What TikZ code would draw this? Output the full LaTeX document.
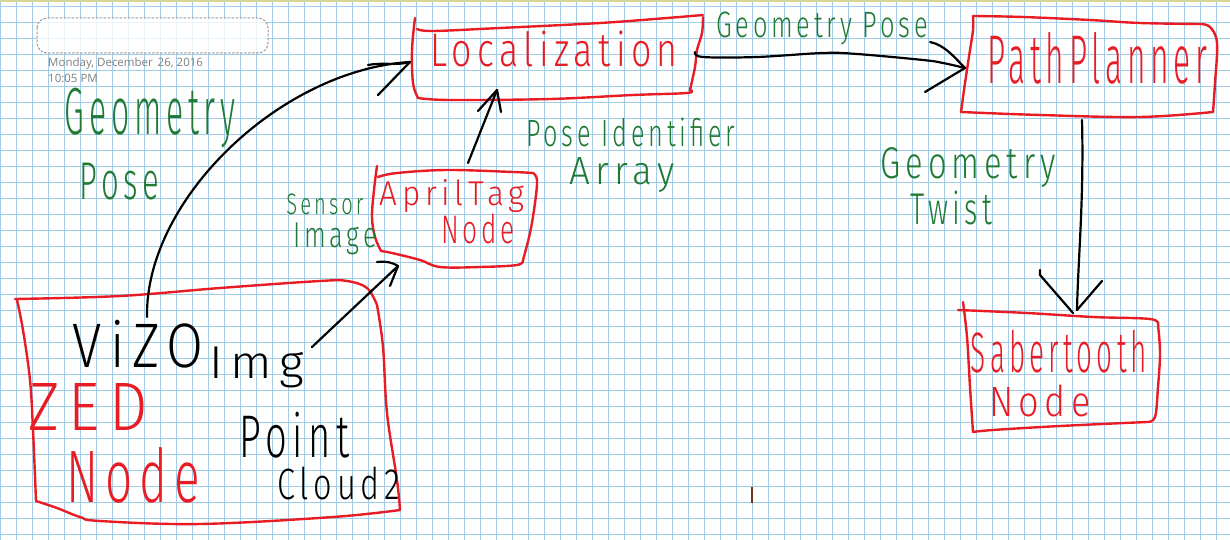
\documentclass[tikz,border=0pt]{standalone}
\usepackage{fontspec}
\usepackage{graphicx}
\IfFontExistsTF{Fira Sans Light}{\newfontfamily\hand{Fira Sans Light}[LetterSpace=15]}{\newfontfamily\hand{DejaVu Sans}[LetterSpace=15]}
\newfontfamily\uifont{Open Sans}
\definecolor{hwred}{RGB}{232,28,36}
\definecolor{hwgreen}{RGB}{32,122,52}
\definecolor{gridblue}{RGB}{160,204,232}
\definecolor{topbar}{RGB}{218,212,150}
\definecolor{uigray}{RGB}{128,128,128}
\definecolor{stray}{RGB}{110,50,30}
\newcommand{\hw}[3]{\resizebox*{#1pt}{#2pt}{\hand\kern-0.075em #3\kern-0.075em}}
\begin{document}
\begin{tikzpicture}[x=1pt,y=-1pt,line cap=round,line join=round,
  redbox/.style={draw=hwred,line width=2.4pt},
  conn/.style={draw=black,line width=2.2pt},
  gridline/.style={draw=gridblue,line width=1.3pt,line cap=butt},
  lbl/.style={inner sep=0pt,outer sep=0pt,anchor=north west},
  redlbl/.style={lbl,text=hwred},
  greenlbl/.style={lbl,text=hwgreen},
  blacklbl/.style={lbl,text=black}]
\useasboundingbox (0,0) rectangle (1230,540);
\fill[white] (0,0) rectangle (1230,540);
% grid paper
\foreach \i in {0,...,76} \draw[gridline] ({16*\i+0.5},0) -- ({16*\i+0.5},540);
\foreach \j in {0,...,33} \draw[gridline] (0,{16*\j+6.5}) -- (1230,{16*\j+6.5});
\fill[topbar] (0,0) rectangle (1230,2);
% title placeholder and date
\draw[uigray!80,line width=1pt,dash pattern=on 2pt off 2pt,rounded corners=10pt,fill=white,fill opacity=0.75]
  (37,18) rectangle (268,53);
\node[inner sep=0pt,anchor=base west,text=uigray,font=\uifont\fontsize{11.5}{13}\selectfont] (date) at (48,67) {Monday, December\,\ 26, 2016};
\node[inner sep=0pt,anchor=base west,text=uigray,font=\uifont\fontsize{11.5}{13}\selectfont] (time) at (48,83) {10:05 PM};

% ---------- boxes ----------
% Localization
\draw[redbox] plot[smooth,tension=0.6] coordinates {(415,18) (412,50) (413,83) (418,98)};
\draw[redbox] plot[smooth,tension=0.6] coordinates {(418,98) (450,100) (550,99) (633,95) (687,93) (690,90)};
\draw[redbox] plot[smooth,tension=0.6] coordinates {(690,90) (695,67) (697,50) (702,33) (703,17)};
\draw[redbox] plot[smooth,tension=0.6] coordinates {(703,15) (667,18) (600,23) (500,28) (433,31) (417,29)};
% PathPlanner
\draw[redbox] plot[smooth,tension=0.6] coordinates {(973,16) (973,30) (970,50) (965,83) (961,112)};
\draw[redbox] plot[smooth,tension=0.6] coordinates {(961,112) (1040,115) (1140,117) (1213,112)};
\draw[redbox] plot[smooth,tension=0.6] coordinates {(1213,112) (1215,83) (1217,43) (1210,27) (1200,24)};
\draw[redbox] plot[smooth,tension=0.6] coordinates {(1200,24) (1140,23) (1090,20) (1023,17) (973,16)};
% AprilTag
\draw[redbox] plot[smooth,tension=0.6] coordinates {(377,166) (374,190) (372,217) (375,237) (381,251)};
\draw[redbox] plot[smooth,tension=0.6] coordinates {(381,251) (392,253) (420,260) (440,267) (480,267) (517,265) (523,260)};
\draw[redbox] plot[smooth,tension=0.6] coordinates {(523,260) (530,233) (535,203) (537,180) (533,173)};
\draw[redbox] plot[smooth,tension=0.6] coordinates {(533,173) (513,172) (447,170) (397,173) (378,177)};
% ZED
\draw[redbox] plot[smooth,tension=0.6] coordinates {(15,299) (120,296) (220,288) (320,281) (347,281) (367,288) (377,305)};
\draw[redbox] plot[smooth,tension=0.6] coordinates {(377,305) (383,347) (387,413) (397,480) (400,510)};
\draw[redbox] plot[smooth,tension=0.6] coordinates {(400,510) (333,517) (200,524) (100,521) (80,517) (57,508) (36,501)};
\draw[redbox] plot[smooth,tension=0.6] coordinates {(36,501) (33,430) (30,380) (23,330) (17,300)};
% Sabertooth
\draw[redbox] plot[smooth,tension=0.6] coordinates {(958,310) (1027,313) (1093,317) (1150,319) (1158,325)};
\draw[redbox] plot[smooth,tension=0.6] coordinates {(1158,325) (1160,353) (1158,387) (1155,417) (1147,422)};
\draw[redbox] plot[smooth,tension=0.6] coordinates {(1147,422) (1060,426) (993,430) (973,432)};
\draw[redbox] plot[smooth,tension=0.6] coordinates {(973,432) (970,387) (967,337) (963,302)};

% ---------- node texts ----------
\node[redlbl] (t-loc) at (433,31) {\hw{242}{36}{Localization}};
\node[redlbl] (t-path) at (990,32) {\hw{215}{52}{PathPlanner}};
\node[redlbl] (t-april1) at (382,180) {\hw{140}{33}{AprilTag}};
\node[redlbl] (t-april2) at (443,214) {\hw{70}{30}{Node}};
\node[redlbl] (t-zed1) at (33,383) {\hw{110}{47}{ZED}};
\node[redlbl] (t-zed2) at (70,447) {\hw{127}{56}{Node}};
\node[redlbl] (t-sab1) at (973,330) {\hw{172}{43}{Sabertooth}};
\node[redlbl] (t-sab2) at (992,385) {\hw{96}{32}{Node}};
% topic texts in ZED box
\node[blacklbl] (t-vizo) at (77,320) {\hw{123}{48}{ViZO}};
\node[blacklbl] (t-img) at (213,347) {\hw{87}{41}{Img}};
\node[blacklbl] (t-point) at (242,412) {\hw{105}{46}{Point}};
\node[blacklbl] (t-cloud) at (280,467) {\hw{118}{33}{Cloud2}};
% edge labels
\node[greenlbl] (l-geo1) at (67,88) {\hw{166}{60}{Geometry}};
\node[greenlbl] (l-pose1) at (82,163) {\hw{75}{37}{Pose}};
\node[greenlbl] (l-sensor) at (288,194) {\hw{74}{21}{Sensor}};
\node[greenlbl] (l-image) at (295,223) {\hw{80}{32}{Image}};
\node[greenlbl] (l-poseid) at (528,118) {\hw{205}{29}{Pose Identifier}};
\node[greenlbl] (l-array) at (572,158) {\hw{100}{35}{Array}};
\node[greenlbl] (l-geopose) at (718,12) {\hw{208}{33}{Geometry Pose}};
\node[greenlbl] (l-geo2) at (883,148) {\hw{170}{40}{Geometry}};
\node[greenlbl] (l-twist) at (913,191) {\hw{77}{34}{Twist}};

% ---------- connector end points ----------
\coordinate (vizo-out) at (147,317);
\coordinate (loc-in-l) at (410,62);
\coordinate (img-out) at (312,347);
\coordinate (april-in) at (398,266);
\coordinate (april-out) at (468,163);
\coordinate (loc-in-b) at (497,90);
\coordinate (loc-out) at (695,52);
\coordinate (path-in) at (965,68);
\coordinate (path-out) at (1082,120);
\coordinate (sab-in) at (1077,310);

% ViZO -> Localization
\draw[conn] (vizo-out) .. controls (145,200) and (280,70) .. (loc-in-l);
\draw[conn] (368,65) .. controls (385,62) and (395,66) .. (loc-in-l);
\draw[conn] (378,95) -- (loc-in-l);
% Img -> AprilTag
\draw[conn] (img-out) -- (april-in);
\draw[conn] (377,262) .. controls (388,261) and (393,263) .. (april-in);
\draw[conn] (390,286) -- (april-in);
% AprilTag -> Localization
\draw[conn] (april-out) -- (loc-in-b);
\draw[conn] (478,111) -- (loc-in-b);
\draw[conn] (501,112) -- (loc-in-b);
% Localization -> PathPlanner
\draw[conn] plot[smooth,tension=0.6] coordinates {(loc-out) (703,57) (757,57) (823,53) (857,54) (923,60) (943,63) (path-in)};
\draw[conn] (930,42) .. controls (945,45) and (955,58) .. (path-in);
\draw[conn] (925,92) -- (path-in);
% PathPlanner -> Sabertooth
\draw[conn] (path-out) .. controls (1084,200) and (1078,260) .. (sab-in);
\draw[conn] (1040,270) -- (1040,275) -- (1073,313);
\draw[conn] (1102,281) -- (sab-in);
% stray pen mark
\draw[draw=stray,line width=1.5pt,line cap=butt] (752,487) -- (752,503);
\end{tikzpicture}
\end{document}
